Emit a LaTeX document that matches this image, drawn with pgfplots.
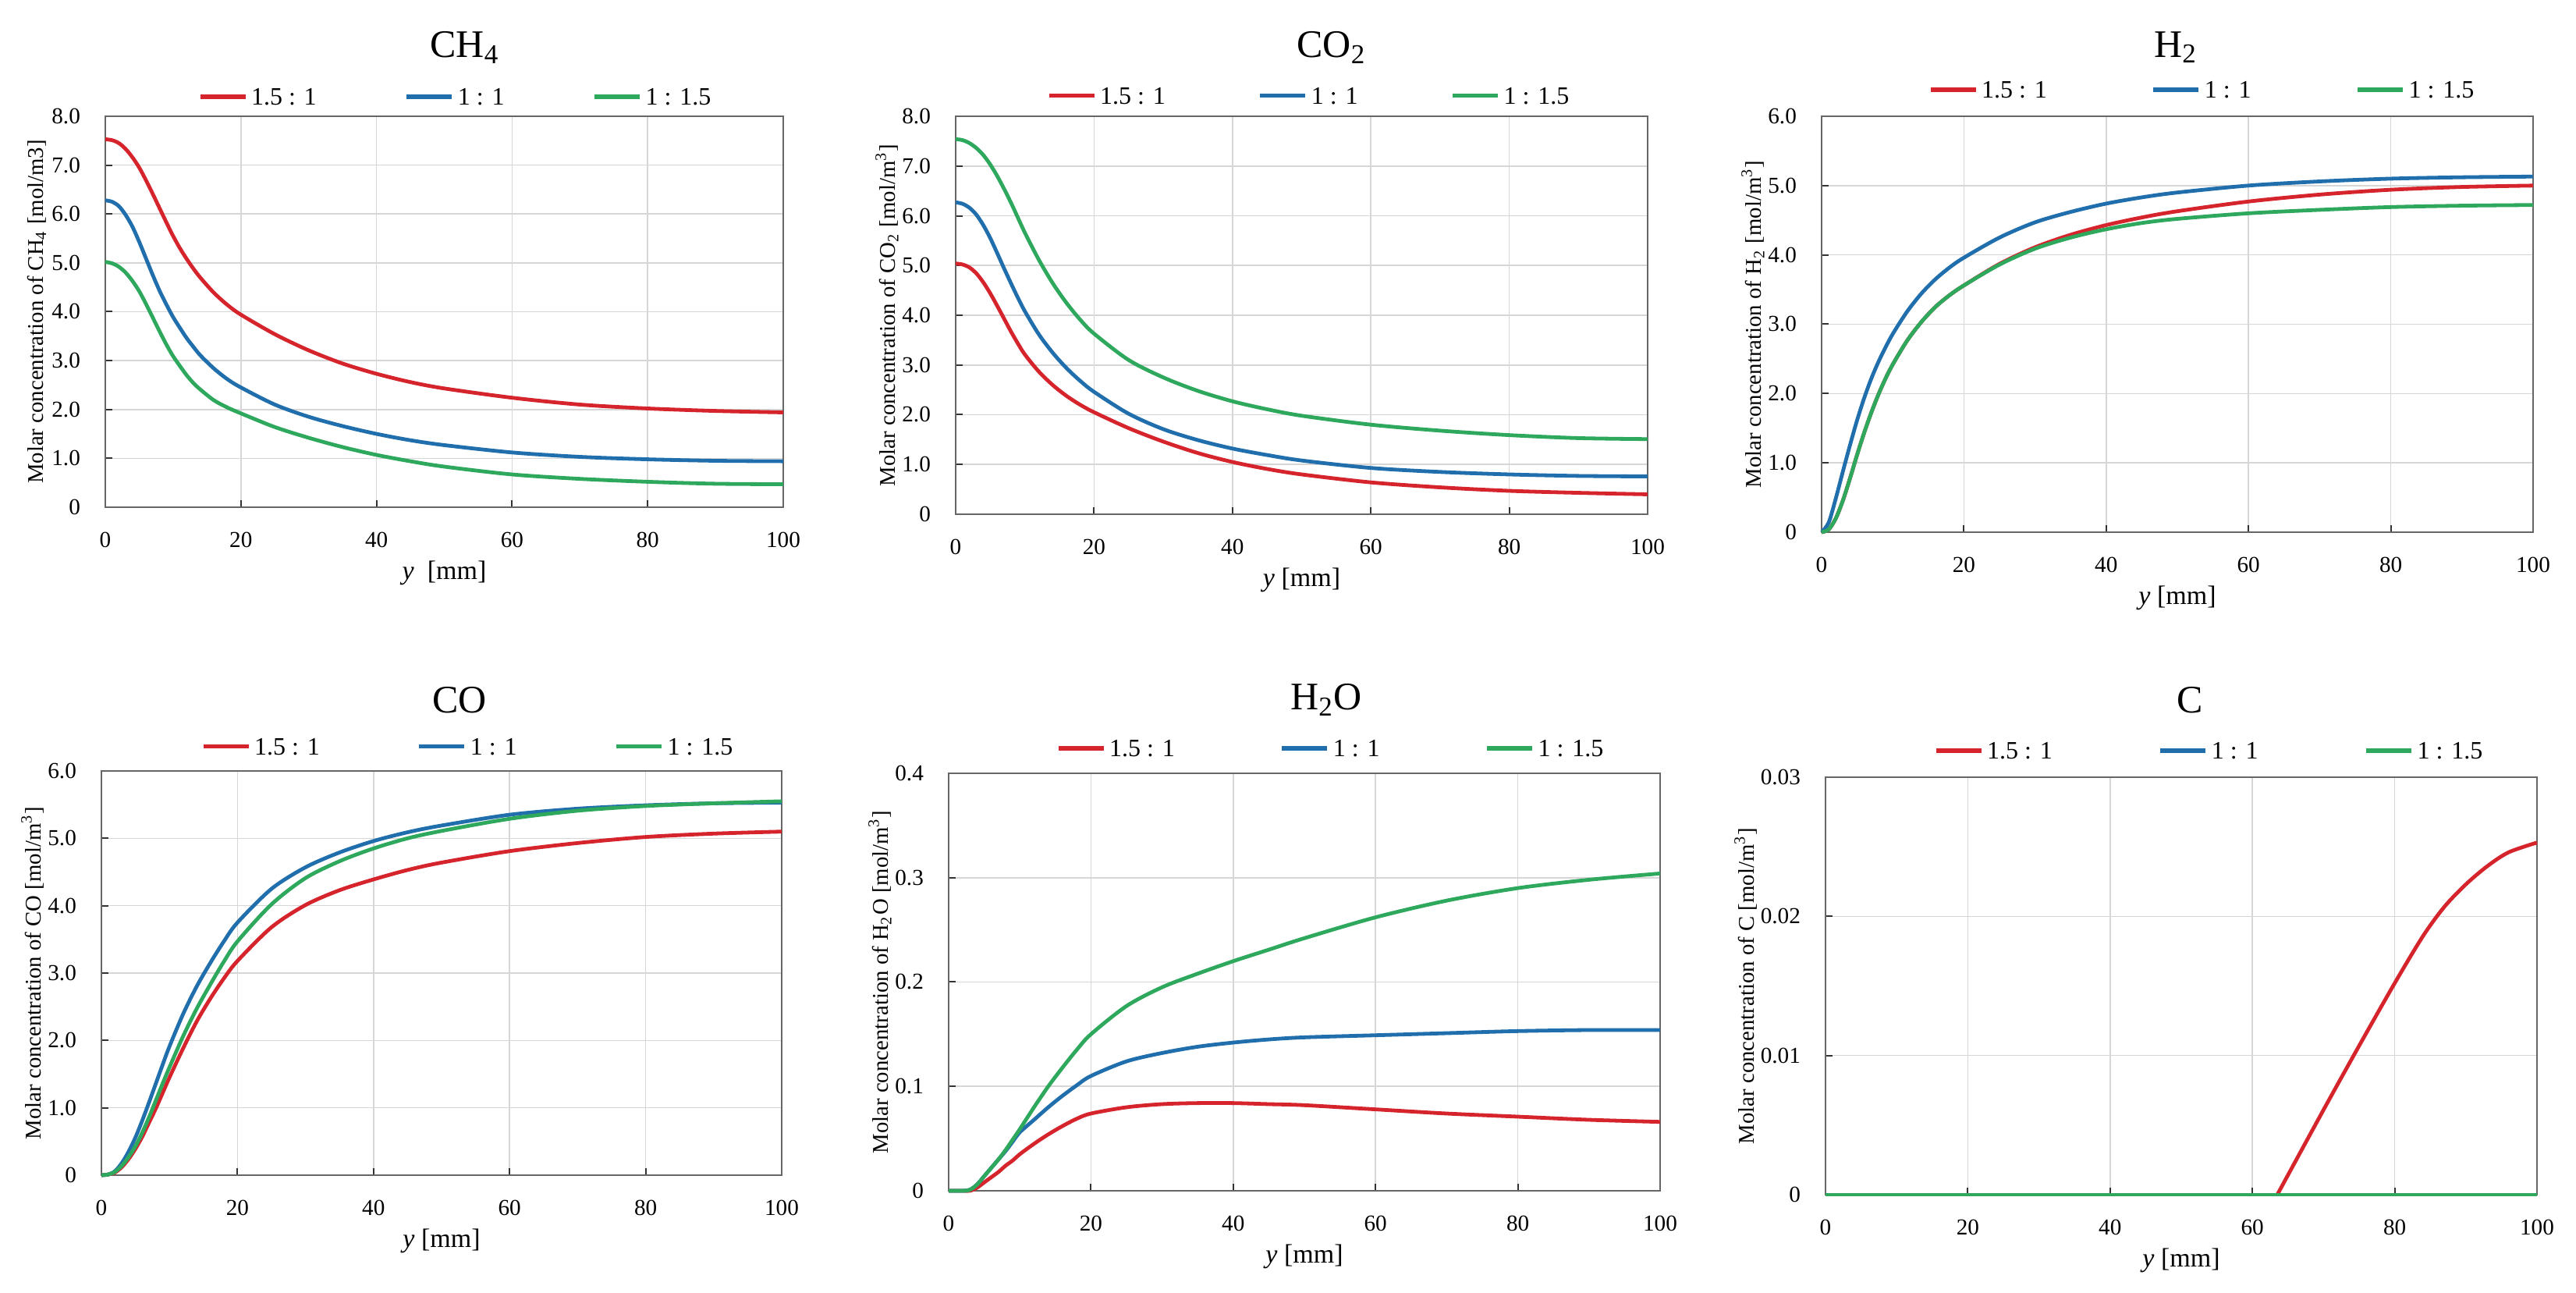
\documentclass[border=0pt]{standalone}
\usepackage{fontspec}
\setmainfont{Liberation Serif}
\usepackage{pgfplots}
\usepackage{pgfplotstable}
\pgfplotsset{compat=1.18}

\definecolor{cr}{RGB}{213,36,43}
\definecolor{cb}{RGB}{32,110,172}
\definecolor{cg}{RGB}{46,168,92}

\newcommand{\tickfont}{\fontsize{7.3}{8}\selectfont}
\newcommand{\legfont}{\fontsize{8}{9}\selectfont}
\newcommand{\xlabfont}{\fontsize{8.5}{10}\selectfont}
\newcommand{\ylabfont}{\fontsize{7.2}{8}\selectfont}
\newcommand{\titfont}{\fontsize{12.5}{14}\selectfont}

\pgfplotstableread{
x r b g
0 7.53 6.28 5.02
1 7.51 6.25 4.99
2 7.45 6.16 4.92
3 7.33 5.98 4.80
4 7.16 5.74 4.63
5 6.95 5.43 4.42
6 6.69 5.09 4.16
7 6.41 4.75 3.88
8 6.12 4.43 3.60
9 5.83 4.15 3.33
10 5.55 3.89 3.09
11 5.30 3.67 2.89
12 5.08 3.46 2.70
13 4.88 3.28 2.54
14 4.70 3.11 2.41
16 4.39 2.84 2.19
18 4.14 2.62 2.04
20 3.94 2.45 1.92
25 3.54 2.10 1.64
30 3.21 1.85 1.42
35 2.94 1.66 1.23
40 2.73 1.50 1.07
45 2.56 1.37 0.94
50 2.43 1.27 0.83
60 2.24 1.12 0.67
70 2.10 1.03 0.58
80 2.02 0.98 0.52
90 1.97 0.95 0.48
100 1.94 0.94 0.47
}\tabCHfour

\pgfplotstableread{
x r b g
0 5.04 6.27 7.54
1 5.02 6.24 7.52
2 4.96 6.16 7.46
3 4.84 6.02 7.36
4 4.66 5.81 7.22
5 4.44 5.55 7.03
6 4.19 5.25 6.80
7 3.93 4.94 6.54
8 3.67 4.64 6.26
9 3.43 4.35 5.96
10 3.21 4.08 5.66
12 2.87 3.62 5.12
14 2.60 3.25 4.65
16 2.38 2.94 4.25
18 2.20 2.68 3.91
20 2.05 2.46 3.63
25 1.73 2.02 3.10
30 1.46 1.71 2.75
35 1.23 1.49 2.48
40 1.05 1.32 2.27
45 0.91 1.19 2.11
50 0.80 1.08 1.98
60 0.64 0.93 1.80
70 0.54 0.85 1.68
80 0.47 0.80 1.59
90 0.43 0.77 1.53
100 0.40 0.76 1.51
}\tabCOtwo

\pgfplotstableread{
x r b g
0 0 0 0
1 0.04 0.14 0.04
2 0.20 0.49 0.20
3 0.46 0.88 0.46
4 0.78 1.26 0.78
5 1.12 1.62 1.12
6 1.44 1.94 1.44
7 1.73 2.22 1.73
8 1.99 2.46 1.99
9 2.22 2.67 2.22
10 2.42 2.86 2.42
12 2.76 3.18 2.76
14 3.03 3.44 3.03
16 3.25 3.65 3.25
18 3.42 3.82 3.42
20 3.56 3.96 3.56
25 3.87 4.25 3.86
30 4.11 4.47 4.09
35 4.29 4.62 4.25
40 4.43 4.74 4.37
45 4.54 4.83 4.46
50 4.63 4.90 4.52
60 4.77 5.00 4.60
70 4.87 5.06 4.65
80 4.94 5.10 4.69
90 4.98 5.12 4.71
100 5.00 5.13 4.72
}\tabHtwo

\pgfplotstableread{
x r b g
0 0 0 0
1 0.01 0.01 0.01
2 0.04 0.06 0.05
3 0.12 0.18 0.14
4 0.24 0.35 0.27
5 0.39 0.56 0.43
6 0.57 0.81 0.63
7 0.78 1.08 0.86
8 0.99 1.36 1.11
9 1.22 1.64 1.36
10 1.45 1.91 1.60
12 1.88 2.39 2.06
14 2.28 2.80 2.47
16 2.62 3.15 2.83
18 2.92 3.47 3.17
20 3.18 3.75 3.47
25 3.68 4.25 4.02
30 4.01 4.57 4.41
35 4.23 4.79 4.66
40 4.39 4.96 4.85
45 4.53 5.09 5.00
50 4.64 5.19 5.11
60 4.81 5.35 5.29
70 4.93 5.44 5.41
80 5.02 5.49 5.48
90 5.07 5.52 5.52
100 5.10 5.53 5.55
}\tabCO

\pgfplotstableread{
x r b g
0 0 0 0
2 0 0 0
3 0.000 0.001 0.001
4 0.003 0.006 0.006
5 0.008 0.014 0.014
6 0.013 0.022 0.022
7 0.018 0.030 0.030
8 0.024 0.038 0.039
9 0.029 0.047 0.049
10 0.035 0.056 0.059
12 0.045 0.068 0.080
14 0.054 0.080 0.100
16 0.062 0.091 0.118
18 0.069 0.101 0.135
20 0.074 0.110 0.150
25 0.080 0.124 0.177
30 0.083 0.132 0.195
35 0.084 0.138 0.208
40 0.084 0.142 0.220
45 0.083 0.145 0.231
50 0.082 0.147 0.242
60 0.078 0.149 0.262
70 0.074 0.151 0.278
80 0.071 0.153 0.290
90 0.068 0.154 0.298
100 0.066 0.154 0.304
}\tabHtwoO

\pgfplotstableread{
x r
0 0
63.5 0
}\tabCrzero

\pgfplotstableread{
x r
63.5 0
70 0.0061
75 0.0107
80 0.0152
84 0.0186
87 0.0207
90 0.0223
93 0.0236
96 0.0246
100 0.0253
}\tabCr

\pgfplotstableread{
x b g
0 0 0
100 0 0
}\tabCbg

\pgfplotsset{
  panel/.style={
    scale only axis, clip=false,
    xmin=0, xmax=100, xtick={0,20,40,60,80,100},
    xticklabels={0,20,40,60,80,100},
    ymin=0, scaled y ticks=false,
    grid=major, major grid style={black!16, line width=0.4pt},
    axis line style={black!60, line width=0.5pt},
    tick style={black!80, line width=0.5pt},
    major tick length=2.2pt,
    xtick pos=bottom, ytick pos=left, tick align=inside,
    tick label style={font=\tickfont},
    xticklabel style={yshift=-4.5pt},
    yticklabel style={xshift=-4.5pt},
    every axis x label/.style={at={(axis description cs:0.5,0)}, anchor=center, yshift=-21pt, font=\xlabfont},
    every axis y label/.style={at={(axis description cs:0,0.5)}, xshift=-22pt, rotate=90, anchor=center, font=\ylabfont},
    legend columns=3,
    legend image code/.code={\draw[##1,line width=1.3pt] (0pt,0pt) -- (14.5pt,0pt);},
    legend style={at={(axis description cs:0,1)}, anchor=west, draw=none, fill=none,
      inner sep=0pt, outer sep=0pt, font=\legfont,
      nodes={inner sep=0pt, text depth=0pt},
      /tikz/every odd column/.style={column sep=1.25pt}},
    every axis plot/.append style={line width=1.2pt},
  },
  legpos/.style n args={3}{legend style={xshift=#1, yshift=#2, /tikz/every even column/.style={column sep=#3}}},
}

\begin{document}
\begin{tikzpicture}
\path[use as bounding box] (0,0) rectangle (825.5pt,414.25pt);

% CH4
\begin{axis}[panel, at={(33.75pt,251.75pt)}, anchor=south west,
  width=217.25pt, height=125.25pt, ymax=8,
  ytick={0,1,2,3,4,5,6,7,8}, yticklabels={0,1.0,2.0,3.0,4.0,5.0,6.0,7.0,8.0},
  xlabel={\textit{y}\ \ [mm]}, ylabel={Molar concentration of CH\textsubscript{4} [mol/m3]},
  legpos={29.75pt}{6.25pt}{28.25pt}]
\addplot[cr, smooth] table[x=x,y=r]{\tabCHfour};
\addplot[cb, smooth] table[x=x,y=b]{\tabCHfour};
\addplot[cg, smooth] table[x=x,y=g]{\tabCHfour};
\legend{1.5 : 1, 1 : 1, 1 : 1.5}
\end{axis}

% CO2
\begin{axis}[panel, at={(306.25pt,249.5pt)}, anchor=south west,
  width=221.75pt, height=127.5pt, ymax=8,
  ytick={0,1,2,3,4,5,6,7,8}, yticklabels={0,1.0,2.0,3.0,4.0,5.0,6.0,7.0,8.0},
  xlabel={\textit{y} [mm]}, ylabel={Molar concentration of CO\textsubscript{2} [mol/m\textsuperscript{3}]},
  legpos={29.25pt}{6.6pt}{29.75pt}]
\addplot[cr, smooth] table[x=x,y=r]{\tabCOtwo};
\addplot[cb, smooth] table[x=x,y=b]{\tabCOtwo};
\addplot[cg, smooth] table[x=x,y=g]{\tabCOtwo};
\legend{1.5 : 1, 1 : 1, 1 : 1.5}
\end{axis}

% H2
\begin{axis}[panel, at={(583.75pt,243.75pt)}, anchor=south west,
  width=228pt, height=133.25pt, ymax=6,
  ytick={0,1,2,3,4,5,6}, yticklabels={0,1.0,2.0,3.0,4.0,5.0,6.0},
  xlabel={\textit{y} [mm]}, ylabel={Molar concentration of H\textsubscript{2} [mol/m\textsuperscript{3}]},
  legpos={34.25pt}{8.5pt}{33.5pt}]
\addplot[cr, smooth] table[x=x,y=r]{\tabHtwo};
\addplot[cb, smooth] table[x=x,y=b]{\tabHtwo};
\addplot[cg, smooth] table[x=x,y=g]{\tabHtwo};
\legend{1.5 : 1, 1 : 1, 1 : 1.5}
\end{axis}

% CO
\begin{axis}[panel, at={(32.5pt,37.75pt)}, anchor=south west,
  width=218pt, height=129.5pt, ymax=6,
  ytick={0,1,2,3,4,5,6}, yticklabels={0,1.0,2.0,3.0,4.0,5.0,6.0},
  xlabel={\textit{y} [mm]}, ylabel={Molar concentration of CO [mol/m\textsuperscript{3}]},
  legpos={32pt}{7.85pt}{31.25pt}]
\addplot[cr, smooth] table[x=x,y=r]{\tabCO};
\addplot[cb, smooth] table[x=x,y=b]{\tabCO};
\addplot[cg, smooth] table[x=x,y=g]{\tabCO};
\legend{1.5 : 1, 1 : 1, 1 : 1.5}
\end{axis}

% H2O
\begin{axis}[panel, at={(304pt,32.75pt)}, anchor=south west,
  width=228pt, height=133.75pt, ymax=0.4,
  ytick={0,0.1,0.2,0.3,0.4}, yticklabels={0,0.1,0.2,0.3,0.4},
  xlabel={\textit{y} [mm]}, ylabel={Molar concentration of H\textsubscript{2}O [mol/m\textsuperscript{3}]},
  legpos={34.5pt}{8pt}{33.75pt}]
\addplot[cr, smooth] table[x=x,y=r]{\tabHtwoO};
\addplot[cb, smooth] table[x=x,y=b]{\tabHtwoO};
\addplot[cg, smooth] table[x=x,y=g]{\tabHtwoO};
\legend{1.5 : 1, 1 : 1, 1 : 1.5}
\end{axis}

% C
\begin{axis}[panel, at={(585pt,31.5pt)}, anchor=south west,
  width=228pt, height=133.75pt, ymax=0.03,
  ytick={0,0.01,0.02,0.03}, yticklabels={0,0.01,0.02,0.03},
  xlabel={\textit{y} [mm]}, ylabel={Molar concentration of C [mol/m\textsuperscript{3}]},
  every axis y label/.style={at={(axis description cs:0,0.5)}, xshift=-25.5pt, rotate=90, anchor=center, font=\ylabfont},
  legpos={34.75pt}{8.5pt}{34pt}]
\addplot[cr, forget plot] table[x=x,y=r]{\tabCrzero};
\addplot[cr, smooth] table[x=x,y=r]{\tabCr};
\addplot[cb] table[x=x,y=b]{\tabCbg};
\addplot[cg] table[x=x,y=g]{\tabCbg};
\legend{1.5 : 1, 1 : 1, 1 : 1.5}
\end{axis}

% titles
\node[font=\titfont] at (149pt,399pt) {CH\textsubscript{4}};
\node[font=\titfont] at (426.75pt,399pt) {CO\textsubscript{2}};
\node[font=\titfont] at (697.25pt,399pt) {H\textsubscript{2}};
\node[font=\titfont] at (147.25pt,190pt) {CO};
\node[font=\titfont] at (425pt,190pt) {H\textsubscript{2}O};
\node[font=\titfont] at (701.75pt,190pt) {C};
\end{tikzpicture}
\end{document}
